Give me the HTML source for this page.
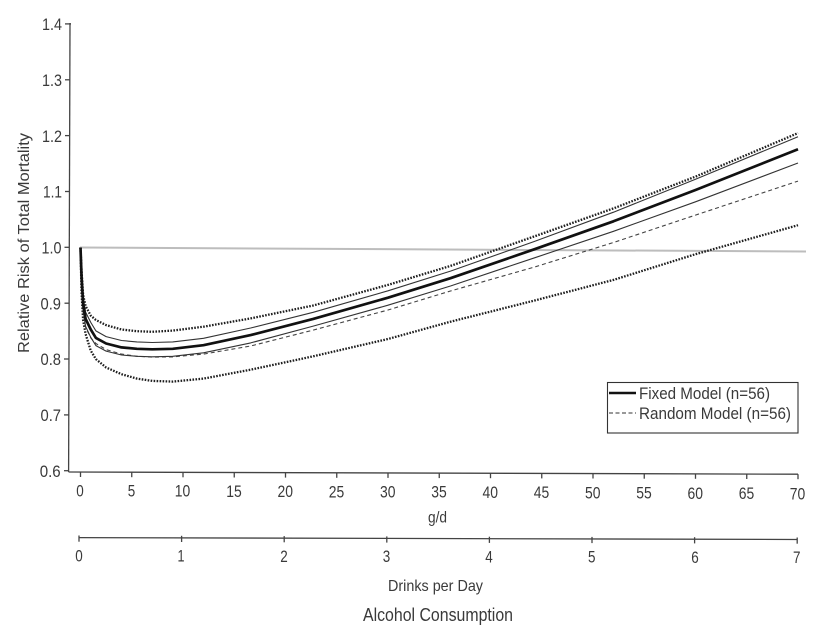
<!DOCTYPE html>
<html>
<head>
<meta charset="utf-8">
<style>
html,body{margin:0;padding:0;background:#fff;}
svg{display:block;}
text{font-family:"Liberation Sans",Arial,sans-serif;fill:#3a3a3a;}
</style>
</head>
<body>
<svg width="824" height="640" viewBox="0 0 824 640" xmlns="http://www.w3.org/2000/svg">
<rect x="0" y="0" width="824" height="640" fill="#fff"/>

<!-- reference line at 1.0 -->
<line x1="80" y1="247.5" x2="806" y2="251.5" stroke="#bdbdbd" stroke-width="2"/>

<!-- y axis -->
<g stroke="#444" stroke-width="1.3" fill="none">
<line x1="70" y1="23" x2="68.6" y2="472"/>
<line x1="65" y1="23.9" x2="71" y2="23.9"/>
<line x1="65" y1="79.8" x2="70" y2="79.8"/>
<line x1="65" y1="135.6" x2="70" y2="135.6"/>
<line x1="65" y1="191.5" x2="70" y2="191.5"/>
<line x1="64.5" y1="247.3" x2="69.5" y2="247.3"/>
<line x1="64.5" y1="303.2" x2="69.5" y2="303.2"/>
<line x1="64" y1="359" x2="69" y2="359"/>
<line x1="64" y1="414.9" x2="69" y2="414.9"/>
<line x1="64" y1="470.7" x2="69" y2="470.7"/>
</g>
<g font-size="17" text-anchor="end">
<text x="62" y="30.1" textLength="20" lengthAdjust="spacingAndGlyphs">1.4</text>
<text x="62" y="86" textLength="20" lengthAdjust="spacingAndGlyphs">1.3</text>
<text x="62" y="141.8" textLength="20" lengthAdjust="spacingAndGlyphs">1.2</text>
<text x="62" y="197.7" textLength="19" lengthAdjust="spacingAndGlyphs">1.1</text>
<text x="61.5" y="253.5" textLength="20" lengthAdjust="spacingAndGlyphs">1.0</text>
<text x="61" y="309.4" textLength="20.5" lengthAdjust="spacingAndGlyphs">0.9</text>
<text x="61" y="365.2" textLength="20.5" lengthAdjust="spacingAndGlyphs">0.8</text>
<text x="61" y="421.1" textLength="20.5" lengthAdjust="spacingAndGlyphs">0.7</text>
<text x="60.7" y="476.9" textLength="21" lengthAdjust="spacingAndGlyphs">0.6</text>
</g>

<!-- y label -->
<text transform="translate(29,243) rotate(-90)" font-size="16" text-anchor="middle" textLength="220" lengthAdjust="spacingAndGlyphs">Relative Risk of Total Mortality</text>

<!-- x axis g/d -->
<g stroke="#444" stroke-width="1.3" fill="none">
<line x1="68.6" y1="472" x2="798" y2="474.2"/>
<line x1="80.5" y1="472" x2="80.5" y2="477"/>
<line x1="131.75" y1="472.2" x2="131.75" y2="477.2"/>
<line x1="183" y1="472.3" x2="183" y2="477.3"/>
<line x1="234.25" y1="472.5" x2="234.25" y2="477.5"/>
<line x1="285.5" y1="472.6" x2="285.5" y2="477.6"/>
<line x1="336.75" y1="472.8" x2="336.75" y2="477.8"/>
<line x1="388" y1="472.9" x2="388" y2="477.9"/>
<line x1="439.25" y1="473.1" x2="439.25" y2="478.1"/>
<line x1="490.5" y1="473.2" x2="490.5" y2="478.2"/>
<line x1="541.75" y1="473.4" x2="541.75" y2="478.4"/>
<line x1="593" y1="473.5" x2="593" y2="478.5"/>
<line x1="644.25" y1="473.7" x2="644.25" y2="478.7"/>
<line x1="695.5" y1="473.8" x2="695.5" y2="478.8"/>
<line x1="746.75" y1="474" x2="746.75" y2="479"/>
<line x1="798" y1="474.2" x2="798" y2="479.2"/>
</g>
<g font-size="17" text-anchor="middle">
<text x="80" y="496.3" textLength="7.5" lengthAdjust="spacingAndGlyphs">0</text>
<text x="131.5" y="496.5" textLength="7.5" lengthAdjust="spacingAndGlyphs">5</text>
<text x="182.5" y="496.7" textLength="15.5" lengthAdjust="spacingAndGlyphs">10</text>
<text x="234" y="496.9" textLength="15.5" lengthAdjust="spacingAndGlyphs">15</text>
<text x="285.3" y="497.1" textLength="15.5" lengthAdjust="spacingAndGlyphs">20</text>
<text x="336.5" y="497.3" textLength="15.5" lengthAdjust="spacingAndGlyphs">25</text>
<text x="387.8" y="497.5" textLength="15.5" lengthAdjust="spacingAndGlyphs">30</text>
<text x="439" y="497.7" textLength="15.5" lengthAdjust="spacingAndGlyphs">35</text>
<text x="490.3" y="497.9" textLength="15.5" lengthAdjust="spacingAndGlyphs">40</text>
<text x="541.5" y="498.1" textLength="15.5" lengthAdjust="spacingAndGlyphs">45</text>
<text x="592.8" y="498.4" textLength="15.5" lengthAdjust="spacingAndGlyphs">50</text>
<text x="644" y="498.6" textLength="15.5" lengthAdjust="spacingAndGlyphs">55</text>
<text x="695.3" y="498.8" textLength="15.5" lengthAdjust="spacingAndGlyphs">60</text>
<text x="746.5" y="499" textLength="15.5" lengthAdjust="spacingAndGlyphs">65</text>
<text x="797.5" y="499.3" textLength="15.5" lengthAdjust="spacingAndGlyphs">70</text>
</g>
<text x="437.5" y="522.5" font-size="16" text-anchor="middle" textLength="19" lengthAdjust="spacingAndGlyphs">g/d</text>

<!-- drinks axis -->
<g stroke="#444" stroke-width="1.3" fill="none">
<line x1="79" y1="537.6" x2="797.5" y2="539.5"/>
<line x1="79" y1="535.5" x2="79" y2="541.7"/>
<line x1="181.6" y1="535.8" x2="181.6" y2="542"/>
<line x1="284.2" y1="536.1" x2="284.2" y2="542.3"/>
<line x1="386.8" y1="536.4" x2="386.8" y2="542.6"/>
<line x1="489.4" y1="536.7" x2="489.4" y2="542.9"/>
<line x1="592" y1="536.9" x2="592" y2="543.1"/>
<line x1="694.6" y1="537.2" x2="694.6" y2="543.4"/>
<line x1="797.2" y1="537.5" x2="797.2" y2="543.7"/>
</g>
<g font-size="17" text-anchor="middle">
<text x="79" y="561.3" textLength="7.5" lengthAdjust="spacingAndGlyphs">0</text>
<text x="181" y="561.5" textLength="7" lengthAdjust="spacingAndGlyphs">1</text>
<text x="284" y="561.8" textLength="7.5" lengthAdjust="spacingAndGlyphs">2</text>
<text x="386.5" y="562" textLength="7.5" lengthAdjust="spacingAndGlyphs">3</text>
<text x="489" y="562.3" textLength="7.5" lengthAdjust="spacingAndGlyphs">4</text>
<text x="591.7" y="562.5" textLength="7.5" lengthAdjust="spacingAndGlyphs">5</text>
<text x="695" y="562.8" textLength="7.5" lengthAdjust="spacingAndGlyphs">6</text>
<text x="796.7" y="563" textLength="7.5" lengthAdjust="spacingAndGlyphs">7</text>
</g>
<text x="435.5" y="591" font-size="16" text-anchor="middle" textLength="95" lengthAdjust="spacingAndGlyphs">Drinks per Day</text>
<text x="438" y="621" font-size="18" text-anchor="middle" fill="#2a2a2a" textLength="150" lengthAdjust="spacingAndGlyphs">Alcohol Consumption</text>

<!-- curves -->
<g fill="none" stroke-linejoin="round">
<!-- lower dotted (random lower) -->
<polyline stroke="#1e1e1e" stroke-width="2.3" stroke-dasharray="1.6 1.4" points="80.5,247.5 81.5,292.1 83.1,320 85.6,334 90.75,350.7 95.9,359.1 106.1,367.5 121.5,374.2 136.9,378.6 152.25,380.9 172.75,381.6 203.5,378.6 250.65,369.7 313.2,356.3 388,339 450.5,321.7 534.6,300.5 613.5,279.9 695.5,254.2 798,225.2"/>
<!-- upper dotted (random upper) -->
<polyline stroke="#1e1e1e" stroke-width="2.3" stroke-dasharray="1.6 1.4" points="80.5,247.5 81.5,269.8 83.1,294.9 85.6,306.1 90.75,315.6 95.9,320 106.1,325.1 121.5,329.5 136.9,331.2 152.25,331.8 172.75,330.6 203.5,326.7 250.65,318.4 313.2,305.5 388,284.9 450.5,265.9 534.6,236.3 613.5,208.4 695.5,176.6 798,133.1"/>
<!-- dashed (random model) -->
<polyline stroke="#444" stroke-width="1.1" stroke-dasharray="4 3" points="80.5,247.5 81.5,283.8 83.1,311.7 85.6,327.3 90.75,337.9 95.9,343.5 106.1,349.6 121.5,354.1 136.9,356.3 152.25,357.1 172.75,356.9 203.5,354.1 250.65,346 313.2,330.1 388,310 450.5,291 534.6,267 613.5,242.5 695.5,215.1 798,181.1"/>
<!-- thin upper (fixed upper) -->
<polyline stroke="#333" stroke-width="1.1" points="80.5,247.5 81.5,271.2 83.1,297.3 85.6,312.1 90.75,322.4 95.9,330.9 106.1,336.6 121.5,340.5 136.9,341.95 152.25,342.5 172.75,341.95 203.5,338.3 250.65,328 313.2,312.3 388,290.8 450.5,271.1 534.6,241.4 613.5,212.2 695.5,179.2 798,136.8"/>
<!-- thin lower (fixed lower) -->
<polyline stroke="#333" stroke-width="1.1" points="80.5,247.5 81.5,280 83.1,309.9 85.6,326.4 90.75,337.3 95.9,345.6 106.1,351.1 121.5,355 136.9,356.3 152.25,356.8 172.75,356.3 203.5,352.8 250.65,342.9 313.2,326.1 388,305.2 450.5,286 534.6,257.8 613.5,231.3 695.5,201.8 798,163"/>
<!-- thick (fixed model) -->
<polyline stroke="#111" stroke-width="2.7" points="80.5,247.5 81.5,275.4 83.1,303.3 85.6,318.9 90.75,329.5 95.9,337.9 106.1,343.5 121.5,347.4 136.9,348.8 152.25,349.3 172.75,348.8 203.5,345.2 250.65,335.1 313.2,318.9 388,297.7 450.5,278.2 534.6,249.2 613.5,221.3 695.5,190 798,149.3"/>
</g>

<!-- legend -->
<rect x="607.5" y="382.5" width="190.5" height="50.5" fill="#fff" stroke="#333" stroke-width="1.1"/>
<line x1="609" y1="393" x2="636" y2="393" stroke="#111" stroke-width="2.5"/>
<line x1="609" y1="413" x2="636" y2="413" stroke="#333" stroke-width="1.1" stroke-dasharray="4 2.5"/>
<text x="639" y="399" font-size="17" textLength="131" lengthAdjust="spacingAndGlyphs">Fixed Model (n=56)</text>
<text x="639" y="419" font-size="17" textLength="152" lengthAdjust="spacingAndGlyphs">Random Model (n=56)</text>
</svg>
</body>
</html>
